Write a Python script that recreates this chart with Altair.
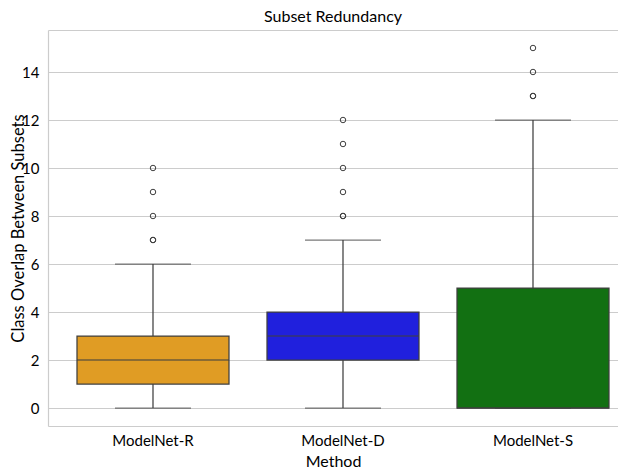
import altair as alt
import pandas as pd

methods = ["ModelNet-R", "ModelNet-D", "ModelNet-S"]
colors = ["#E09C24", "#2020DD", "#127012"]
whisker_low = [0, 0, 0]
q1 = [1, 2, 0]
median = [2, 3, 0]
q3 = [3, 4, 5]
whisker_high = [6, 7, 12]
outlier_method = ["ModelNet-R"] * 5 + ["ModelNet-D"] * 6 + ["ModelNet-S"] * 4
outlier_value = [7, 7, 8, 9, 10, 8, 8, 9, 10, 11, 12, 13, 13, 14, 15]
y_ticks = [0, 2, 4, 6, 8, 10, 12, 14]
y_min, y_max = -0.75, 15.75

stats = pd.DataFrame({
    "method": methods, "low": whisker_low, "q1": q1, "med": median,
    "q3": q3, "high": whisker_high,
})
outl = pd.DataFrame({"method": outlier_method, "value": outlier_value})

FONT = "Lato"
EDGE = "#3f3f3f"
SPINE = "#cccccc"

x_scale = alt.Scale(paddingInner=0.10526, paddingOuter=0.05263, align=1)
x_axis = alt.Axis(title="Method", labelAngle=0, domain=True, domainColor=SPINE, domainWidth=1.2,
                  ticks=False, grid=False, labelPadding=19, labelBaseline="alphabetic",
                  titleY=40, titleBaseline="alphabetic")

def X():
    return alt.X("method:N", sort=methods, scale=x_scale, axis=x_axis)

y_scale = alt.Scale(domain=[y_min, y_max], nice=False, zero=False)
# the extra grid value at the top of the domain draws the upper frame line
y_axis = alt.Axis(title="Class Overlap Between Subsets", values=y_ticks + [y_max], grid=True,
                  labelExpr="datum.value > 15 ? '' : datum.label",
                  gridColor=SPINE, gridWidth=1, domain=True, domainColor=SPINE, domainWidth=1.2,
                  ticks=False, labelPadding=9, titleX=-30, titleBaseline="middle",
                  titleFontSize=16.5)

def Y(field):
    return alt.Y(field, type="quantitative", scale=y_scale, axis=y_axis)

base = alt.Chart(stats)

lower_whisker = base.mark_rule(color=EDGE, strokeWidth=1.25).encode(
    x=X(), y=Y("low"), y2="q1")
upper_whisker = base.mark_rule(color=EDGE, strokeWidth=1.25).encode(
    x=X(), y=Y("q3"), y2="high")
cap_low = base.mark_tick(color=EDGE, size=76, thickness=1.25, orient="horizontal").encode(
    x=X(), y=Y("low"))
cap_high = base.mark_tick(color=EDGE, size=76, thickness=1.25, orient="horizontal").encode(
    x=X(), y=Y("high"))
box = base.mark_bar(size=152, stroke=EDGE, strokeWidth=1.25, opacity=1).encode(
    x=X(), y=Y("q1"), y2="q3",
    color=alt.Color("method:N", scale=alt.Scale(domain=methods, range=colors), legend=None),
)
med = base.mark_tick(color=EDGE, size=152, thickness=1.5, orient="horizontal").encode(
    x=X(), y=Y("med"))
pts = alt.Chart(outl).mark_point(shape="circle", filled=False, size=30, color=EDGE,
                                 strokeWidth=1, opacity=1).encode(
    x=X(), y=Y("value"))

chart = alt.layer(lower_whisker, upper_whisker, cap_low, cap_high, box, med, pts).properties(
    width=570, height=396,
    title=alt.TitleParams("Subset Redundancy", font=FONT, fontSize=16, fontWeight="normal",
                          color="#000000", offset=5),
    autosize=alt.AutoSizeParams(type="none"),
    padding={"left": 40, "top": 22, "right": 0, "bottom": 42},
).configure_view(stroke=None).configure_axis(
    labelFont=FONT, titleFont=FONT, labelFontSize=15, titleFontSize=16,
    labelColor="#000000", titleColor="#000000", titleFontWeight="normal",
)

chart.save("out.html", embed_options={"renderer": "svg", "actions": False})
